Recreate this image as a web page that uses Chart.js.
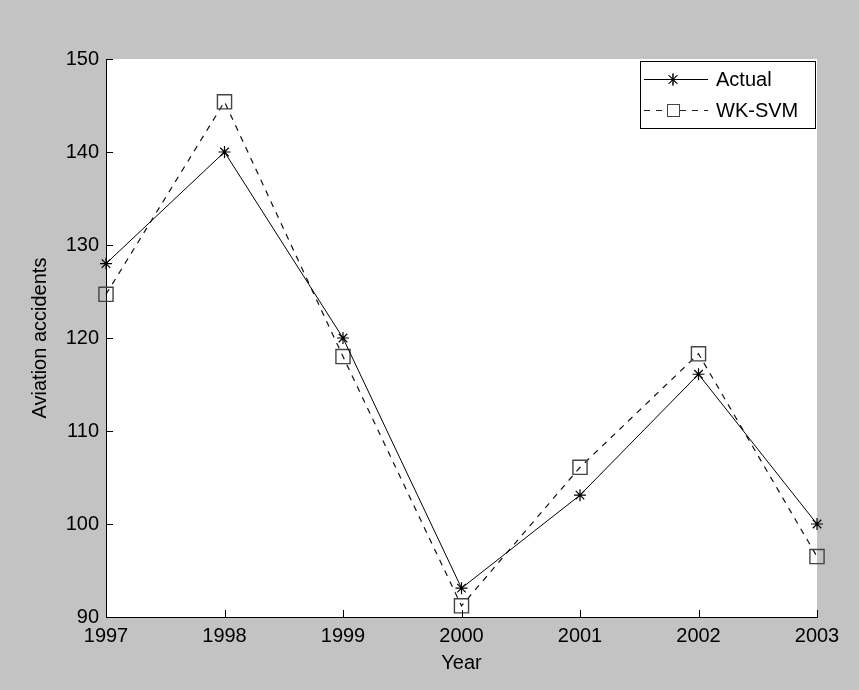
<!DOCTYPE html>
<html>
<head>
<meta charset="utf-8">
<script src="https://cdn.jsdelivr.net/npm/chart.js@4/dist/chart.umd.min.js"></script>
<style>
  html, body { margin: 0; padding: 0; background: #c3c3c3; }
  canvas { display: block; }
</style>
</head>
<body>
<canvas id="chart" width="859" height="690"></canvas>
<script>
const years = ['1997', '1998', '1999', '2000', '2001', '2002', '2003']
const actual = [128.0, 140.0, 120.0, 93.1, 103.1, 116.1, 100.0]
const wkSvm = [124.7, 145.4, 118.0, 91.2, 106.1, 118.3, 96.5]
const yTicks = [90, 100, 110, 120, 130, 140, 150]

const FONT = 'Liberation Sans, Arial, sans-serif'

// white plot area, inward tick marks and the boxed legend
const matlabLook = {
  id: 'matlabLook',
  beforeDraw(chart) {
    const { ctx, chartArea: a } = chart
    ctx.save()
    ctx.fillStyle = '#c3c3c3'
    ctx.fillRect(0, 0, chart.width, chart.height)
    ctx.fillStyle = '#ffffff'
    ctx.fillRect(a.left, a.top, a.right - a.left, a.bottom - a.top)
    ctx.restore()
  },
  afterDraw(chart) {
    const { ctx, chartArea: a, scales } = chart
    ctx.save()
    ctx.strokeStyle = '#000'
    ctx.lineWidth = 1
    ctx.beginPath()
    scales.y.ticks.forEach(t => {
      const py = Math.round(scales.y.getPixelForValue(t.value)) + 0.5
      ctx.moveTo(a.left, py)
      ctx.lineTo(a.left + 7, py)
    })
    scales.x.ticks.forEach((t, i) => {
      const px = Math.round(scales.x.getPixelForTick(i)) + 0.5
      ctx.moveTo(px, a.bottom)
      ctx.lineTo(px, a.bottom - 7)
    })
    ctx.stroke()

    // legend
    const lx = 640.5, ly = 61.5, lw = 175, lh = 67
    ctx.fillStyle = '#fff'
    ctx.fillRect(lx, ly, lw, lh)
    ctx.strokeRect(lx, ly, lw, lh)
    const rows = [
      { text: 'Actual', y: 79, dash: [], color: '#000', style: 'star' },
      { text: 'WK-SVM', y: 110, dash: [6, 6], color: '#222', style: 'rect' }
    ]
    rows.forEach(r => {
      ctx.setLineDash(r.dash)
      ctx.strokeStyle = r.color
      ctx.beginPath()
      ctx.moveTo(644, r.y + 0.5)
      ctx.lineTo(708, r.y + 0.5)
      ctx.stroke()
      ctx.setLineDash([])
      if (r.style === 'star') {
        Chart.helpers.drawPoint(ctx, { pointStyle: 'star', radius: 6, borderWidth: 1 }, 673, r.y + 0.5)
        ctx.strokeStyle = '#000'
        ctx.stroke()
      } else {
        ctx.fillStyle = '#fff'
        ctx.fillRect(667, r.y - 6, 13, 13)
        ctx.strokeStyle = '#444'
        ctx.strokeRect(667.5, r.y - 5.5, 12, 12)
      }
      ctx.fillStyle = '#000'
      ctx.font = '20px ' + FONT
      ctx.textBaseline = 'middle'
      ctx.fillText(r.text, 716, r.y + 1)
    })
    ctx.restore()
  }
}

new Chart(document.getElementById('chart'), {
  type: 'line',
  data: {
    labels: years,
    datasets: [
      {
        label: 'Actual',
        data: actual,
        borderColor: '#000',
        borderWidth: 1,
        pointStyle: 'star',
        pointRadius: 6,
        pointBorderColor: '#000',
        pointBorderWidth: 1.2,
        tension: 0,
        clip: false
      },
      {
        label: 'WK-SVM',
        data: wkSvm,
        borderColor: '#111',
        borderWidth: 1.2,
        borderDash: [6, 6],
        pointStyle: 'rect',
        pointRadius: 10,
        pointBackgroundColor: 'rgba(255,255,255,0)',
        pointBorderColor: '#444',
        pointBorderWidth: 1.4,
        tension: 0,
        clip: false
      }
    ]
  },
  options: {
    responsive: false,
    animation: false,
    devicePixelRatio: 1,
    layout: { padding: { left: 0, right: 42, top: 59, bottom: 0 } },
    plugins: {
      legend: { display: false },
      tooltip: { enabled: false }
    },
    scales: {
      x: {
        offset: false,
        grid: { display: false, drawTicks: false },
        border: { display: true, color: '#000', width: 1 },
        ticks: { color: '#000', font: { family: FONT, size: 20 }, padding: 7, maxRotation: 0, autoSkip: false },
        title: { display: true, text: 'Year', color: '#000', font: { family: FONT, size: 20 }, padding: { top: 0, bottom: 15 } },
        afterFit(scale) { scale.height = 73 }
      },
      y: {
        min: 90,
        max: 150,
        afterBuildTicks(scale) { scale.ticks = yTicks.map(v => ({ value: v })) },
        grid: { display: false, drawTicks: false },
        border: { display: true, color: '#000', width: 1 },
        ticks: { color: '#000', font: { family: FONT, size: 20 }, padding: 7 },
        title: { display: true, text: 'Aviation accidents', color: '#000', font: { family: FONT, size: 20 }, padding: { top: 28, bottom: 0 } },
        afterFit(scale) { scale.width = 106 }
      }
    }
  },
  plugins: [matlabLook]
})
</script>
</body>
</html>
